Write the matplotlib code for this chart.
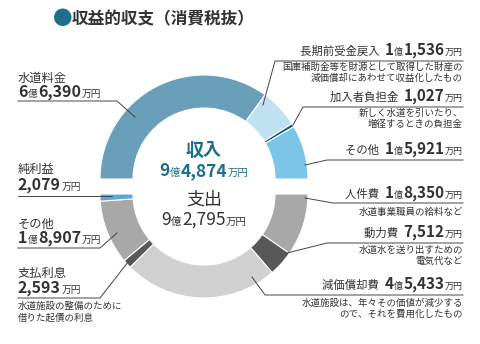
import matplotlib
matplotlib.use("Agg")
import matplotlib.pyplot as plt
from matplotlib.offsetbox import TextArea, HPacker, AnnotationBbox

plt.rcParams["font.family"] = ["Noto Sans CJK JP", "DejaVu Sans"]

# income (top half, left -> right), expense (bottom half, right -> left), in 万円
inc_labels = ["水道料金", "長期前受金戻入", "加入者負担金", "その他"]
inc_values = [66390, 11536, 1027, 15921]
inc_colors = ["#6a9fba", "#c0e1f1", "#1c5b7a", "#7cc4e8"]

exp_labels = ["人件費", "動力費", "減価償却費", "支払利息", "その他", "純利益"]
exp_values = [18350, 7512, 45433, 2593, 18907, 2079]
exp_colors = ["#a8a8a8", "#585858", "#d0d0d0", "#585858", "#a8a8a8", "#5ba7d6"]

inc_total = 94874
exp_total = 92795

TXT = "#333333"
TEAL = "#1d6f8c"
H = 344


def fmt(v):
    oku, man = divmod(v, 10000)
    return oku, f"{man:,}"


def money(v, big=11, small=6.5, color=TXT, weight="bold"):
    oku, man = fmt(v)
    parts = []
    if oku:
        parts += [(str(oku), big, weight), ("億", small, "normal")]
    parts += [(man, big, weight), ("万円", small, "normal")]
    return [(t, s, w, color) for t, s, w in parts]


def rich(ax, x, y, parts, align=0.0):
    boxes = [TextArea(t, textprops=dict(fontsize=s, fontweight=w, color=c))
             for t, s, w, c in parts]
    pack = HPacker(children=boxes, align="baseline", pad=0, sep=0.3)
    ab = AnnotationBbox(pack, (x, H - y), xycoords="data",
                        box_alignment=(align, 0.0), frameon=False, pad=0)
    ax.add_artist(ab)


fig = plt.figure(figsize=(4.8, 3.44), dpi=100)
ax = fig.add_axes([0, 0, 1, 1])

cx, r, w = 204, 104, 33
ax.pie([v / (2 * inc_total) for v in inc_values], colors=inc_colors,
       normalize=False, startangle=180, counterclock=False,
       center=(cx, H - 179), radius=r,
       wedgeprops=dict(width=w, edgecolor="white", linewidth=0.8))
ax.pie([v / (2 * inc_total) for v in exp_values], colors=exp_colors,
       normalize=False, startangle=0, counterclock=False,
       center=(cx, H - 194), radius=r,
       wedgeprops=dict(width=w, edgecolor="white", linewidth=0.8))

ax.set_xlim(0, 480)
ax.set_ylim(0, H)
ax.set_aspect("auto")
ax.axis("off")

# title
ax.text(53, H - 19, "●", fontsize=14, color=TEAL, va="center")
ax.text(72, H - 19, "収益的収支（消費税抜）", fontsize=12, fontweight="bold",
        color=TXT, va="center")

# centre
ax.text(cx, H - 151, "収入", fontsize=13, fontweight="bold", color=TEAL,
        ha="center", va="center")
rich(ax, cx, 180, money(inc_total, big=12.5, small=7.5, color=TEAL), align=0.5)
ax.text(cx, H - 200, "支出", fontsize=13, color=TXT, ha="center", va="center")
rich(ax, cx, 229, money(exp_total, big=12.5, small=7.5, color=TXT,
                        weight="normal"), align=0.5)


def line(pts):
    ax.plot([p[0] for p in pts], [H - p[1] for p in pts], color="#444444", lw=0.7)


def desc(x, y, text):
    ax.text(x, H - y, text, fontsize=6.8, color=TXT, ha="right", va="center",
            linespacing=1.25)


RX = 463
# right side labels
right = [
    (inc_labels[1], inc_values[1], 58, [(263, 105), (275, 61), (RX, 61)],
     "国庫補助金等を財源として取得した財産の\n減価償却にあわせて収益化したもの", 73),
    (inc_labels[2], inc_values[2], 104, [(293, 125), (303, 107), (RX, 107)],
     "新しく水道を引いたり、\n増径するときの負担金", 119),
    (inc_labels[3], inc_values[3], 157, [(305, 165), (327, 160), (RX, 160)], None, 0),
    (exp_labels[0], exp_values[0], 201, [(305, 198), (333, 203), (RX, 203)],
     "水道事業職員の給料など", 212),
    (exp_labels[1], exp_values[1], 240, [(287, 253), (327, 243), (RX, 243)],
     "水道水を送り出すための\n電気代など", 256),
    (exp_labels[2], exp_values[2], 292, [(252, 277), (265, 295), (RX, 295)],
     "水道施設は、年々その価値が減少する\nので、それを費用化したもの", 309),
]
for lab, val, y, pts, d, dy in right:
    rich(ax, RX, y, [(lab + "  ", 8.2, "normal", TXT)] + money(val, big=11, small=6.5),
         align=1.0)
    line(pts)
    if d:
        desc(RX, dy, d)

# left side labels
LX = 18
left = [
    (inc_labels[0], inc_values[0], 82, 100, [(LX, 101), (117, 101), (135, 117)]),
    (exp_labels[5], exp_values[5], 173, 193, [(LX, 196), (112, 196)]),
    (exp_labels[4], exp_values[4], 228, 246, [(LX, 248), (100, 248), (117, 233)]),
    (exp_labels[3], exp_values[3], 277, 296, [(LX, 298), (100, 298), (128, 262)]),
]
for lab, val, ty, vy, pts in left:
    ax.text(LX, H - ty, lab, fontsize=8.8, color=TXT, va="baseline")
    rich(ax, LX, vy, money(val, big=11.5, small=7), align=0.0)
    line(pts)
ax.text(LX, H - 312, "水道施設の整備のために\n借りた起債の利息", fontsize=6.8,
        color=TXT, va="center", linespacing=1.25)

fig.savefig("out.png", dpi=100)
